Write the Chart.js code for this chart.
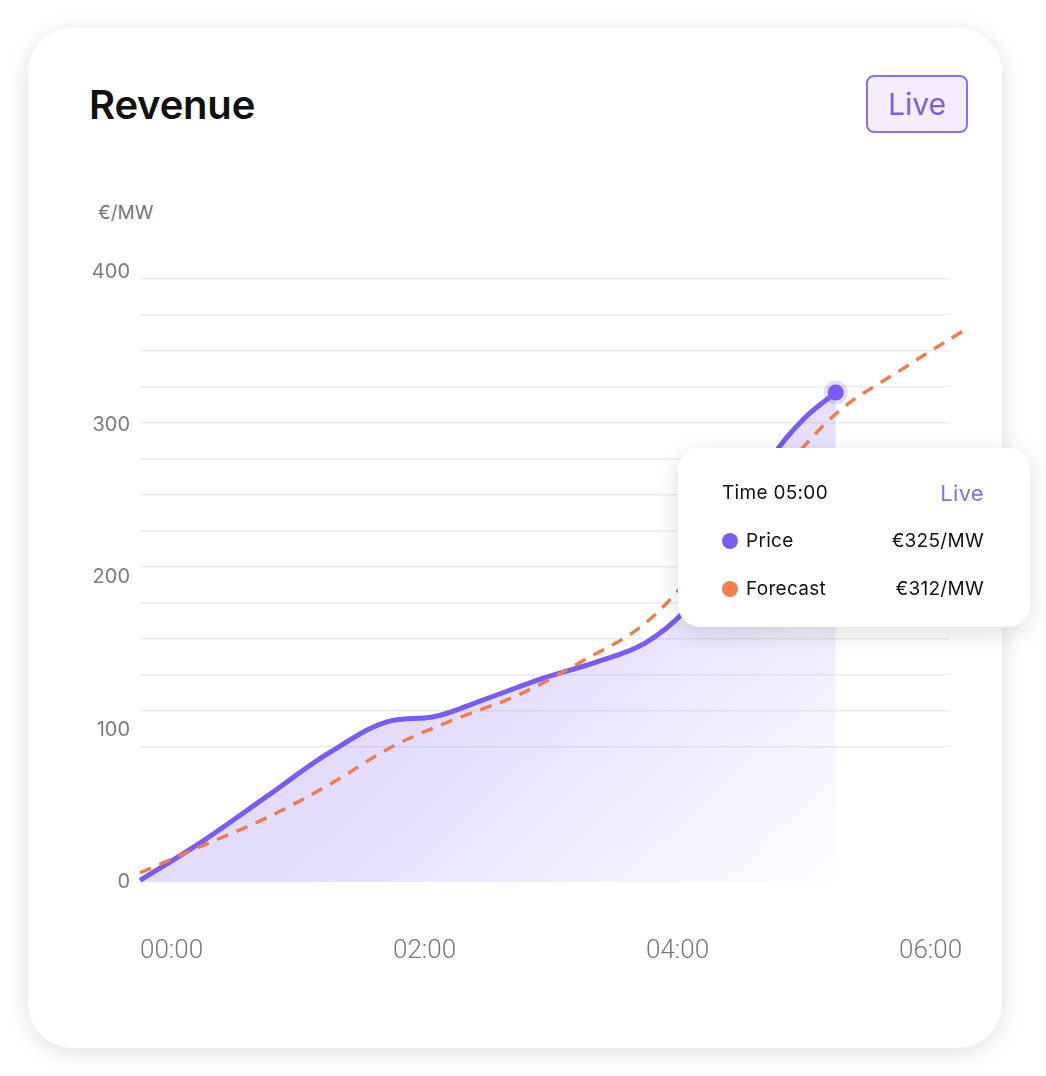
<!DOCTYPE html>
<html>
<head>
<meta charset="utf-8">
<script src="https://cdn.jsdelivr.net/npm/chart.js@4.4.1/dist/chart.umd.min.js"></script>
<style>
  html, body { margin: 0; padding: 0; background: #fff; }
  #wrap { position: relative; width: 1046px; height: 1076px; overflow: hidden; font-family: 'Inter', sans-serif; }
  .card { position: absolute; left: 28px; top: 28px; width: 974px; height: 1020px; background: #fff;
          border-radius: 44px; box-shadow: 0 4px 22px rgba(0,0,0,0.13); }
  .title { position: absolute; left: 89px; top: 80px; font-size: 40px; font-weight: 600; color: #111; letter-spacing: -0.2px; }
  .live { position: absolute; left: 866px; top: 75px; width: 98px; height: 54px; border: 2px solid #8d70e8;
          border-radius: 8px; background: #f3edfe; color: #7d60dc; font-size: 30px; text-align: center;
          line-height: 54px; }
  .unit { position: absolute; left: 98px; top: 201px; font-size: 19px; color: #777; }
  canvas { position: absolute; left: 0; top: 0; }
  .tip { position: absolute; left: 678px; top: 448px; width: 352px; height: 179px; background: #fff;
         border-radius: 22px; box-shadow: 0 6px 26px rgba(0,0,0,0.13); font-size: 19px; color: #111; letter-spacing: 0.3px; }
  .tip .row { position: absolute; left: 44px; right: 46px; height: 26px; line-height: 26px; }
  .tip .row .r { position: absolute; right: 0; top: 0; }
  .dot { display: inline-block; width: 16px; height: 16px; border-radius: 50%; vertical-align: -2px; margin-right: 8px; }
</style>
</head>
<body>
<div id="wrap">
  <div class="card"></div>
  <div class="title">Revenue</div>
  <div class="live">Live</div>
  <div class="unit">€/MW</div>
  <canvas id="myChart" width="1046" height="1076"></canvas>
  <div class="tip">
    <div class="row" style="top:32px">Time 05:00<span class="r" style="color:#8a6fdc;font-size:22px">Live</span></div>
    <div class="row" style="top:80px"><span class="dot" style="background:#7b5cf0"></span>Price<span class="r">€325/MW</span></div>
    <div class="row" style="top:128px"><span class="dot" style="background:#f57d4e"></span>Forecast<span class="r">€312/MW</span></div>
  </div>
</div>
<script>
const priceHours = [0, 0.5, 1, 1.5, 2, 2.3, 2.7, 3.2, 3.6, 4, 4.3, 4.5, 4.75, 5, 5.25, 5.5];
const priceValues = [1, 27, 56, 85, 106, 108, 119, 134, 144, 157, 177, 198, 240, 279, 304, 321];

const forecastHours = [0, 0.5, 1, 1.5, 2, 2.5, 3, 3.5, 4, 4.5, 5, 5.5, 6, 6.5];
const forecastValues = [6, 24, 42, 64, 89, 107, 123, 145, 170, 214, 262, 307, 335, 361];

const yTicks = [0, 100, 200, 300, 400];
const xTicks = [0, 2, 4, 6];

const toPoints = (xs, ys) => xs.map((x, i) => ({ x: x, y: ys[i] }));

const fillGradient = (ctx) => {
  const area = ctx.chart.chartArea;
  if (!area) return 'rgba(124,92,240,0.2)';
  const g = ctx.chart.ctx.createLinearGradient(area.left + 420, area.top + 330, area.left + 700, area.bottom + 20);
  g.addColorStop(0, 'rgba(124,92,240,0.21)');
  g.addColorStop(1, 'rgba(124,92,240,0.0)');
  return g;
};

let ctx = document.getElementById('myChart').getContext('2d');
let myChart = new Chart(ctx, {
  type: 'line',
  data: {
    datasets: [
      {
        label: 'Forecast',
        data: toPoints(forecastHours, forecastValues),
        borderColor: '#ea7f57',
        borderWidth: 3.5,
        borderDash: [12, 9],
        pointRadius: 0,
        fill: false,
        cubicInterpolationMode: 'monotone',
        clip: false,
        order: 0,
      },
      {
        label: 'Price',
        data: toPoints(priceHours, priceValues),
        borderColor: '#7b5cf0',
        borderWidth: 5,
        backgroundColor: fillGradient,
        fill: 'origin',
        cubicInterpolationMode: 'monotone',
        pointRadius: (c) => (c.dataIndex === priceValues.length - 1 ? 8 : 0),
        pointBackgroundColor: '#7b5cf0',
        pointBorderColor: 'rgba(124,92,240,0.22)',
        pointBorderWidth: 8,
        clip: false,
        order: 1,
      },
    ],
  },
  options: {
    responsive: false,
    animation: false,
    events: [],
    layout: { padding: { top: 272, right: 96, bottom: 0, left: 0 } },
    plugins: { legend: { display: false }, tooltip: { enabled: false } },
    scales: {
      x: {
        type: 'linear',
        min: 0,
        max: 6.403,
        afterFit: (s) => { s.height = 194; },
        afterBuildTicks: (s) => { s.ticks = xTicks.map((v) => ({ value: v })); },
        grid: { display: false },
        border: { display: false },
        ticks: {
          align: 'start',
          padding: 46,
          autoSkip: false,
          maxRotation: 0,
          color: '#777',
          font: { family: 'Roboto', size: 26, weight: 300 },
          callback: (v) => String(v).padStart(2, '0') + ':00',
        },
      },
      y: {
        min: 0,
        max: 400,
        afterFit: (s) => { s.width = 140; },
        afterBuildTicks: (s) => { s.ticks = yTicks.map((v) => ({ value: v })); },
        grid: { display: false, drawTicks: false },
        border: { display: false },
        ticks: { padding: 10, color: '#7c7c7c', font: { family: 'Inter', size: 20 } },
      },
      g: {
        position: 'right',
        min: -0.75,
        max: 16.194,
        afterFit: (s) => { s.width = 0; },
        border: { display: false },
        ticks: { display: false, stepSize: 1, includeBounds: false },
        grid: {
          drawTicks: false,
          lineWidth: 1.5,
          color: (c) => (c.tick && c.tick.value >= 3 ? '#ebebeb' : 'rgba(0,0,0,0)'),
        },
      },
    },
  },
});
</script>
</body>
</html>
